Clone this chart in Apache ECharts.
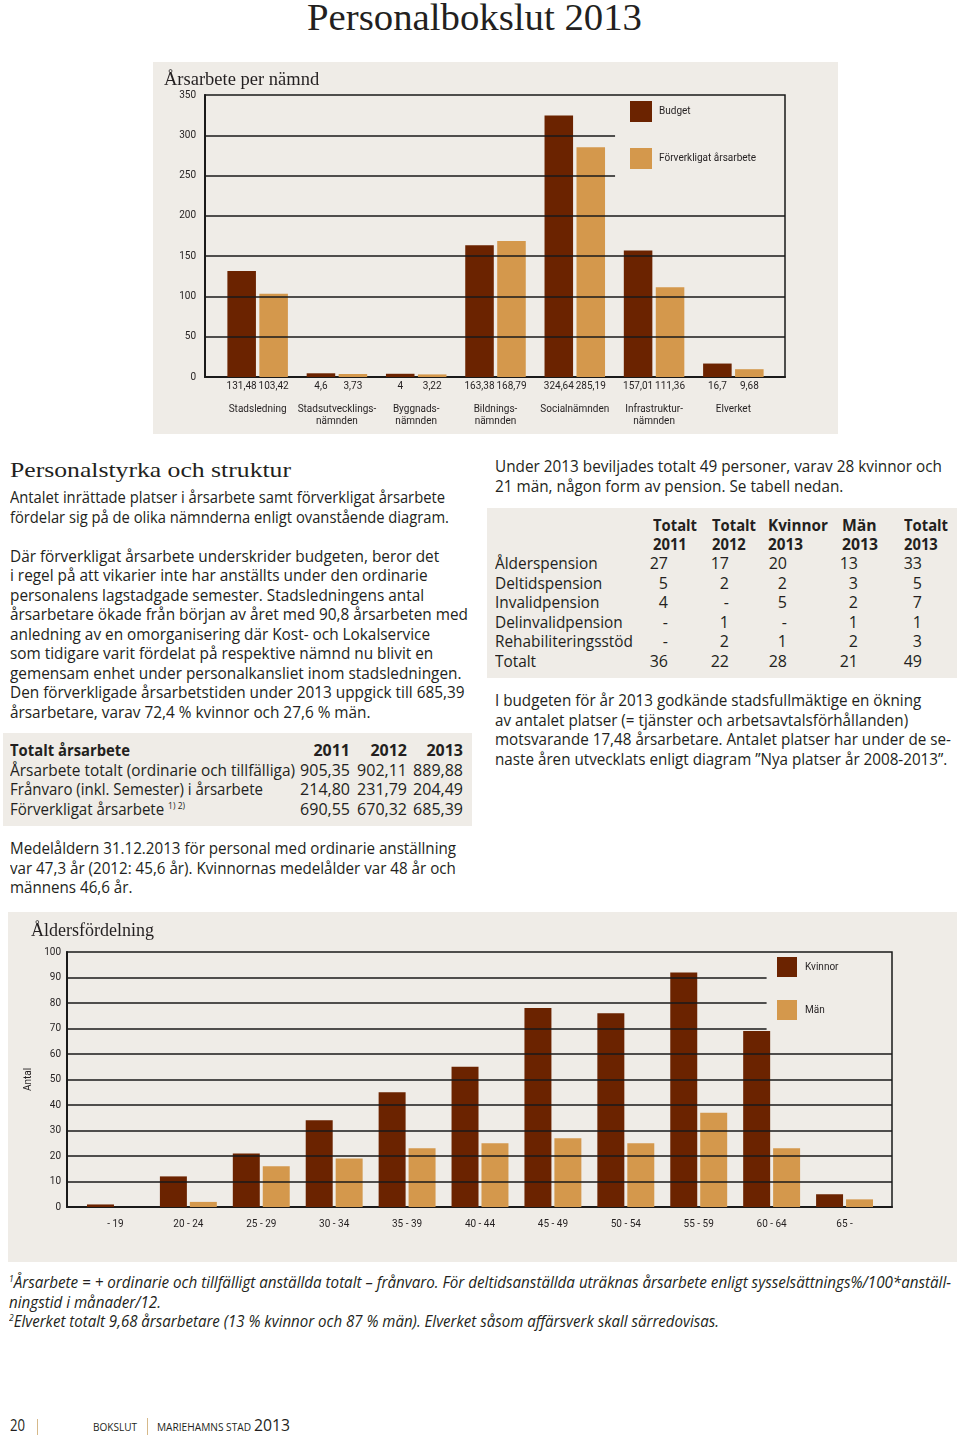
<!DOCTYPE html>
<html><head><meta charset="utf-8">
<script src="https://cdn.jsdelivr.net/npm/echarts@6/dist/echarts.min.js"></script>
<style>
html,body{margin:0;padding:0;background:#fff;}
#page{position:relative;width:960px;height:1435px;overflow:hidden;font-family:'Open Sans',sans-serif;color:#231f20;}
.t{position:absolute;white-space:nowrap;font-size:16px;line-height:19.5px;transform-origin:0 0;}
.serif{font-family:'Liberation Serif',serif;}
.b{font-weight:bold;}
.r{text-align:right;width:80px;}
.i{font-style:italic;}
.bg{position:absolute;background:#efece7;}
.sup{font-size:9px;position:relative;top:-6px;}
.chart{position:absolute;background:#efece7;}
</style></head>
<body><div id="page">

<div class="t serif" data-w="335" style="left:307px;top:-3.5px;font-size:38px;line-height:40px;">Personalbokslut 2013</div>

<div id="c1" class="chart" style="left:153px;top:62px;width:685px;height:372px;"></div>

<div class="t serif" data-w="281" style="left:9.5px;top:456.6px;font-size:22px;line-height:26px;">Personalstyrka och struktur</div>
<div class="t" data-w="439" style="left:9.5px;top:488px;">Antalet inrättade platser i årsarbete samt förverkligat årsarbete<br>fördelar sig på de olika nämnderna enligt ovanstående diagram.</div>
<div class="t" data-w="458" style="left:9.5px;top:546.5px;">Där förverkligat årsarbete underskrider budgeten, beror det<br>i regel på att vikarier inte har anställts under den ordinarie<br>personalens lagstadgade semester. Stadsledningens antal<br>årsarbetare ökade från början av året med 90,8 årsarbeten med<br>anledning av en omorganisering där Kost- och Lokalservice<br>som tidigare varit fördelat på respektive nämnd nu blivit en<br>gemensam enhet under personalkansliet inom stadsledningen.<br>Den förverkligade årsarbetstiden under 2013 uppgick till 685,39<br>årsarbetare, varav 72,4 % kvinnor och 27,6 % män.</div>

<div class="bg" style="left:3px;top:733px;width:469px;height:93px;"></div>
<div class="t b" data-w="120" style="left:10px;top:741px;">Totalt årsarbete</div>
<div class="t" data-w="285" style="left:10px;top:760.5px;">Årsarbete totalt (ordinarie och tillfälliga)</div>
<div class="t" data-w="253" style="left:10px;top:780px;">Frånvaro (inkl. Semester) i årsarbete</div>
<div class="t" data-w="175" style="left:10px;top:799.5px;">Förverkligat årsarbete <span class="sup">1) 2)</span></div>
<div class="t r b" style="left:270px;top:741px;">2011<br><span style="font-weight:normal">905,35<br>214,80<br>690,55</span></div>
<div class="t r b" style="left:327px;top:741px;">2012<br><span style="font-weight:normal">902,11<br>231,79<br>670,32</span></div>
<div class="t r b" style="left:383px;top:741px;">2013<br><span style="font-weight:normal">889,88<br>204,49<br>685,39</span></div>

<div class="t" data-w="446" style="left:9.5px;top:839px;">Medelåldern 31.12.2013 för personal med ordinarie anställning<br>var 47,3 år (2012: 45,6 år). Kvinnornas medelålder var 48 år och<br>männens 46,6 år.</div>

<div class="t" data-w="447" style="left:494.5px;top:457px;">Under 2013 beviljades totalt 49 personer, varav 28 kvinnor och<br>21 män, någon form av pension. Se tabell nedan.</div>

<div class="bg" style="left:487px;top:508px;width:470px;height:170px;"></div>
<div class="t b" data-w="44" style="left:652.5px;top:515.7px;">Totalt<br>2011</div>
<div class="t b" data-w="44" style="left:712px;top:515.7px;">Totalt<br>2012</div>
<div class="t b" data-w="60" style="left:768px;top:515.7px;">Kvinnor<br>2013</div>
<div class="t b" data-w="36" style="left:842px;top:515.7px;">Män<br>2013</div>
<div class="t b" data-w="44" style="left:904px;top:515.7px;">Totalt<br>2013</div>
<div class="t" data-w="138" style="left:495px;top:554px;">Ålderspension<br>Deltidspension<br>Invalidpension<br>Delinvalidpension<br>Rehabiliteringsstöd<br>Totalt</div>
<div class="t r" style="left:588px;top:554px;">27<br>5<br>4<br>-<br>-<br>36</div>
<div class="t r" style="left:649px;top:554px;">17<br>2<br>-<br>1<br>2<br>22</div>
<div class="t r" style="left:707px;top:554px;">20<br>2<br>5<br>-<br>1<br>28</div>
<div class="t r" style="left:778px;top:554px;">13<br>3<br>2<br>1<br>2<br>21</div>
<div class="t r" style="left:842px;top:554px;">33<br>5<br>7<br>1<br>3<br>49</div>

<div class="t" data-w="456" style="left:494.5px;top:691.3px;">I budgeten för år 2013 godkände stadsfullmäktige en ökning<br>av antalet platser (= tjänster och arbetsavtalsförhållanden)<br>motsvarande 17,48 årsarbetare. Antalet platser har under de se-<br>naste åren utvecklats enligt diagram ”Nya platser år 2008-2013”.</div>

<div id="c2" class="chart" style="left:8px;top:912px;width:949px;height:350px;"></div>

<div class="t i" data-w="942" style="left:9px;top:1273px;"><span class="sup">1</span>Årsarbete = + ordinarie och tillfälligt anställda totalt – frånvaro. För deltidsanställda uträknas årsarbete enligt sysselsättnings%/100*anställ-</div>
<div class="t i" data-w="152" style="left:9px;top:1292.5px;">ningstid i månader/12.</div>
<div class="t i" data-w="710" style="left:9px;top:1312px;"><span class="sup">2</span>Elverket totalt 9,68 årsarbetare (13 % kvinnor och 87 % män). Elverket såsom affärsverk skall särredovisas.</div>

<div class="t" data-w="15" style="left:10px;top:1415.7px;">20</div>
<div style="position:absolute;left:37px;top:1419px;width:1px;height:16px;background:#d6b98a;"></div>
<div class="t" data-w="44" style="left:92.5px;top:1417.7px;font-size:10.5px;">BOKSLUT</div>
<div style="position:absolute;left:146.5px;top:1418px;width:1px;height:17px;background:#d6b98a;"></div>
<div class="t" data-w="94" style="left:157px;top:1417.7px;font-size:10.5px;">MARIEHAMNS STAD</div>
<div class="t" data-w="36" style="left:253.5px;top:1415.7px;">2013</div>

</div>
<script>
// ---- Data: Årsarbete per nämnd ----
const namnder = ['Stadsledning', 'Stadsutvecklings-\nnämnden', 'Byggnads-\nnämnden', 'Bildnings-\nnämnden', 'Socialnämnden', 'Infrastruktur-\nnämnden', 'Elverket'];
const budget = [131.48, 4.6, 4, 163.38, 324.64, 157.01, 16.7];
const forverkligat = [103.42, 3.73, 3.22, 168.79, 285.19, 111.36, 9.68];
const arsGridTicks = [50, 100, 150, 200, 250, 300];      // inner grid lines
const arsShortTicks = [250, 300];                        // lines that stop at the legend

// ---- Data: Åldersfördelning ----
const aldersgrupper = ['- 19', '20 - 24', '25 - 29', '30 - 34', '35 - 39', '40 - 44', '45 - 49', '50 - 54', '55 - 59', '60 - 64', '65 -'];
const kvinnor = [1, 12, 21, 34, 45, 55, 78, 76, 92, 69, 5];
const man = [0, 2, 16, 19, 23, 25, 27, 25, 37, 23, 3];
const alderGridTicks = [10, 20, 30, 40, 50, 60, 70, 80, 90];
const alderShortTicks = [70, 80, 90];

const DARK = '#6b2300', LIGHT = '#d4984c', INK = '#231f20', PANEL = '#efece7';
const SANS = 'Roboto';

function fmt(v) { return String(v).replace('.', ','); }

// grid lines as mark lines on the frame grid (x runs 0..1 across the frame);
// lines next to the legend end where the legend begins
function gridLines(ticks, shortTicks, legendStart) {
  return {
    type: 'line', xAxisIndex: 0, yAxisIndex: 0, data: [], silent: true, z: 1,
    markLine: {
      silent: true, symbol: 'none', animation: false, label: {show: false},
      lineStyle: {color: '#1a1a1a', width: 1.5, type: 'solid'},
      emphasis: {disabled: true},
      data: ticks.map(v => [{coord: [0, v]}, {coord: [shortTicks.includes(v) ? legendStart : 1, v]}])
    }
  };
}

const c1 = echarts.init(document.getElementById('c1'), null, {renderer: 'canvas'});
c1.setOption({
  animation: false,
  textStyle: {fontFamily: SANS},
  title: {text: 'Årsarbete per nämnd', left: 6, top: 4,
    textStyle: {fontFamily: 'Liberation Serif', fontSize: 18.5, fontWeight: 'normal', color: INK}},
  grid: [
    {left: 52, top: 33, width: 580, height: 282, show: true, borderColor: '#1a1a1a', borderWidth: 1.5, backgroundColor: 'transparent'},
    {left: 65, top: 33, width: 555, height: 282}
  ],
  xAxis: [
    {gridIndex: 0, type: 'value', min: 0, max: 1, axisLabel: {show: false}, axisTick: {show: false}, splitLine: {show: false},
      axisLine: {show: true, lineStyle: {color: '#1a1a1a', width: 2}}},
    {gridIndex: 1, type: 'category', data: namnder, axisLine: {show: false}, axisTick: {show: false},
      axisLabel: {margin: 26, fontSize: 10, lineHeight: 12, color: INK, fontFamily: SANS, interval: 0}}
  ],
  yAxis: [
    {gridIndex: 0, type: 'value', min: 0, max: 350, interval: 50,
      axisLine: {show: true, lineStyle: {color: '#1a1a1a', width: 2}}, axisTick: {show: false},
      axisLabel: {margin: 9, fontSize: 10, color: INK, fontFamily: SANS},
      splitLine: {show: false}},
    {gridIndex: 1, type: 'value', min: 0, max: 350, show: false}
  ],
  legend: {orient: 'vertical', left: 477, top: 39, padding: 0, itemWidth: 22, itemHeight: 21, itemGap: 26,
    icon: 'rect',
    textStyle: {fontSize: 10, color: INK, fontFamily: SANS, padding: [0, 0, 0, 2]},
    data: ['Budget', 'Förverkligat årsarbete']},
  series: [
    gridLines(arsGridTicks, arsShortTicks, 0.707),
    {name: 'Budget', type: 'bar', xAxisIndex: 1, yAxisIndex: 1, data: budget, barWidth: '36%', barGap: '12%', z: 3,
      itemStyle: {color: DARK},
      label: {show: true, position: 'bottom', distance: 4, formatter: p => fmt(p.value), fontSize: 10, color: INK, fontFamily: SANS}},
    {name: 'Förverkligat årsarbete', type: 'bar', xAxisIndex: 1, yAxisIndex: 1, data: forverkligat, barWidth: '36%', barGap: '12%', z: 3,
      itemStyle: {color: LIGHT},
      label: {show: true, position: 'bottom', distance: 4, formatter: p => fmt(p.value), fontSize: 10, color: INK, fontFamily: SANS}}
  ]
});

const c2 = echarts.init(document.getElementById('c2'), null, {renderer: 'canvas'});
c2.setOption({
  animation: false,
  textStyle: {fontFamily: SANS},
  title: {text: 'Åldersfördelning', left: 18, top: 5,
    textStyle: {fontFamily: 'Liberation Serif', fontSize: 18, fontWeight: 'normal', color: INK}},
  grid: [
    {left: 59, top: 40, width: 825, height: 255, show: true, borderColor: '#1a1a1a', borderWidth: 1.5, backgroundColor: 'transparent'},
    {left: 71, top: 40, width: 802, height: 255}
  ],
  xAxis: [
    {gridIndex: 0, type: 'value', min: 0, max: 1, axisLabel: {show: false}, axisTick: {show: false}, splitLine: {show: false},
      axisLine: {show: true, lineStyle: {color: '#1a1a1a', width: 2}}},
    {gridIndex: 1, type: 'category', data: aldersgrupper, axisLine: {show: false}, axisTick: {show: false},
      axisLabel: {margin: 12, fontSize: 10, color: INK, fontFamily: SANS, interval: 0}}
  ],
  yAxis: [
    {gridIndex: 0, type: 'value', min: 0, max: 100, interval: 10,
      name: 'Antal', nameLocation: 'middle', nameGap: 32, nameRotate: 90,
      nameTextStyle: {fontSize: 10, color: INK, fontFamily: SANS},
      axisLine: {show: true, lineStyle: {color: '#1a1a1a', width: 2}}, axisTick: {show: false},
      axisLabel: {margin: 6, fontSize: 10, color: INK, fontFamily: SANS},
      splitLine: {show: false}},
    {gridIndex: 1, type: 'value', min: 0, max: 100, show: false}
  ],
  legend: {orient: 'vertical', left: 769, top: 45, padding: 0, itemWidth: 20, itemHeight: 20, itemGap: 23,
    icon: 'rect',
    textStyle: {fontSize: 10, color: INK, fontFamily: SANS, padding: [0, 0, 0, 3]},
    data: ['Kvinnor', 'Män']},
  series: [
    gridLines(alderGridTicks, alderShortTicks, 0.848),
    {name: 'Kvinnor', type: 'bar', xAxisIndex: 1, yAxisIndex: 1, data: kvinnor, barWidth: '37%', barGap: '11%', z: 3, itemStyle: {color: DARK}},
    {name: 'Män', type: 'bar', xAxisIndex: 1, yAxisIndex: 1, data: man, barWidth: '37%', barGap: '11%', z: 3, itemStyle: {color: LIGHT}}
  ]
});

function fitAll() {
  document.querySelectorAll('[data-w]').forEach(el => {
    el.style.transform = 'none';
    const w = el.getBoundingClientRect().width;
    const target = parseFloat(el.getAttribute('data-w'));
    if (w > 0) el.style.transform = 'scaleX(' + (target / w) + ')';
  });
}
fitAll();
if (document.fonts && document.fonts.ready) document.fonts.ready.then(fitAll);
</script>
</body></html>
